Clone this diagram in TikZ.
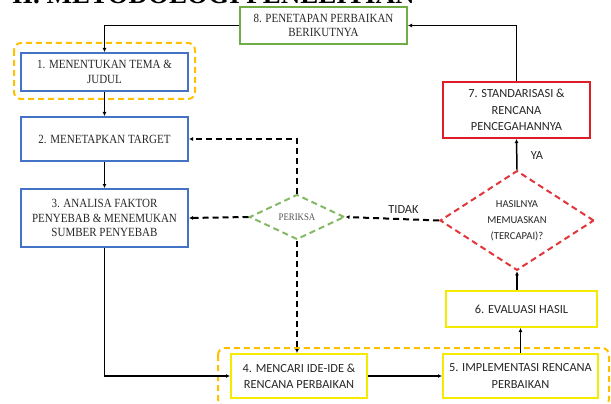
\documentclass[tikz,border=0pt]{standalone}
\usepackage{fontspec}
\setmainfont{Liberation Serif}
\newfontfamily\boxserif[FakeStretch=0.88]{Liberation Serif}
\newfontfamily\boxsans{Carlito}
\usetikzlibrary{shapes.geometric,arrows.meta}
\definecolor{bblue}{RGB}{68,114,196}
\definecolor{bgreen}{RGB}{112,173,71}
\definecolor{bred}{RGB}{222,30,36}
\definecolor{byellow}{RGB}{245,235,0}
\definecolor{borange}{RGB}{255,192,0}
\definecolor{txt}{RGB}{40,40,40}
\tikzset{
  box/.style={draw, line width=2pt, inner sep=0pt, align=center, text=txt},
  serifbox/.style={box, font=\boxserif\fontsize{12.5}{14.2}\selectfont},
  sansbox/.style={box, font=\boxsans\fontsize{12.4}{16.3}\selectfont},
  arr/.style={line width=1.5pt, -{Latex[length=4pt,width=4pt]}},
  darr/.style={line width=2pt, dash pattern=on 6pt off 4pt, -{Latex[length=4pt,width=4pt]}},
  grp/.style={draw=borange, line width=2pt, dash pattern=on 6pt off 4pt, rounded corners=7pt},
  lbl/.style={font=\boxsans\fontsize{12.4}{14}\selectfont, text=txt}
}
\begin{document}
\begin{tikzpicture}[x=1pt,y=-1pt]
\useasboundingbox (0,0) rectangle (611,404);
\clip (0,0) rectangle (611,404);
\fill[white] (0,0) rectangle (611,404);
% cut-off title
\node[anchor=base west, inner sep=0pt, font=\bfseries\fontsize{27}{30}\selectfont] (title) at (12,4) {II. METODOLOGI PENELITIAN};
% groups
\draw[grp] (14,43) rectangle (195,99);
\draw[grp] (218,348) rectangle (609,406);
% boxes
\node[serifbox, draw=bgreen, minimum width=167pt, minimum height=37pt] (box8) at (323.5,25.5) {8. PENETAPAN PERBAIKAN\\BERIKUTNYA};
\node[serifbox, draw=bblue, minimum width=167pt, minimum height=38pt] (box1) at (104.5,72) {1. MENENTUKAN TEMA \&\\JUDUL};
\node[serifbox, draw=bblue, minimum width=167pt, minimum height=44pt] (box2) at (104.5,139) {2. MENETAPKAN TARGET};
\node[serifbox, draw=bblue, minimum width=167pt, minimum height=58pt] (box3) at (104.5,218) {3. ANALISA FAKTOR\\PENYEBAB \& MENEMUKAN\\SUMBER PENYEBAB};
\node[sansbox, draw=bred, minimum width=147pt, minimum height=56pt] (box7) at (516.5,110) {7. STANDARISASI \&\\RENCANA\\PENCEGAHANNYA};
\node[sansbox, draw=byellow, minimum width=151pt, minimum height=36pt] (box6) at (521.5,309) {6. EVALUASI HASIL};
\node[sansbox, draw=byellow, minimum width=136pt, minimum height=44pt] (box4) at (299,376) {4. MENCARI IDE-IDE \&\\RENCANA PERBAIKAN};
\node[sansbox, draw=byellow, minimum width=155pt, minimum height=44pt] (box5) at (520.5,376) {5. IMPLEMENTASI RENCANA\\PERBAIKAN};
% diamonds
\node[diamond, draw=bgreen!85, line width=2pt, dash pattern=on 6pt off 4pt, minimum width=95pt, minimum height=45pt, inner sep=0pt, text=txt!80, font=\boxserif\fontsize{10}{11}\selectfont] (periksa) at (297,217) {PERIKSA};
\node[diamond, draw=bred!90, line width=2pt, dash pattern=on 6pt off 4pt, minimum width=154pt, minimum height=97pt, inner sep=0pt, align=center, text=txt, font=\boxsans\fontsize{10.6}{16}\selectfont] (hasil) at (517,220.5) {HASILNYA\\MEMUASKAN\\(TERCAPAI)?};
% solid connectors
\draw[arr] (box8.west) -| (box1.north);
\draw[arr] (box7.north) |- (box8.east);
\draw[arr] (box1.south) -- (box2.north);
\draw[arr] (box2.south) -- (box3.north);
\draw[arr] (box3.south) |- (box4.west);
\draw[arr] (box4.east) -- (box5.west);
\draw[arr] (box5.north) -- (box5.north |- box6.south);
\draw[arr] (hasil.south |- box6.north) -- (hasil.south);
\draw[arr] (hasil.north) -- node[lbl, right=10pt, pos=0.45] (ya) {YA} (box7.south);
% dashed connectors
\draw[darr] (hasil.west) -- node[lbl, above=1pt, pos=0.38] (tidak) {TIDAK} (periksa.east);
\draw[darr] (periksa.west) -- (box3.east);
\draw[darr] (periksa.north) |- (box2.east);
\draw[darr] (periksa.south) -- (periksa.south |- box4.north);
\end{tikzpicture}
\end{document}
